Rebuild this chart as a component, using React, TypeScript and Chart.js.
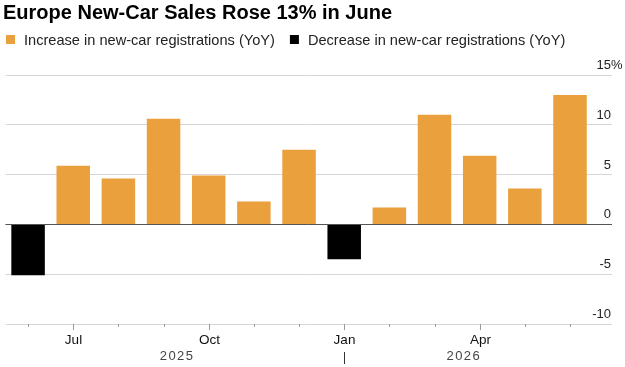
import React, { useEffect, useRef } from 'react';
import { Chart, registerables } from 'chart.js';

Chart.register(...registerables);

// ---- Data ----
const months = ['Jun', 'Jul', 'Aug', 'Sep', 'Oct', 'Nov', 'Dec', 'Jan', 'Feb', 'Mar', 'Apr', 'May', 'Jun'];
const yoyChange = [-5.1, 5.9, 4.6, 10.6, 4.9, 2.3, 7.5, -3.5, 1.7, 11.0, 6.9, 3.6, 13.0];
const xTickLabels = ['', 'Jul', '', '', 'Oct', '', '', 'Jan', '', '', 'Apr', '', ''];
const yTickValues = [-10, -5, 0, 5, 10, 15];
const yearLabels = ['2025', '2026'];
const seriesNames = ['Increase in new-car registrations (YoY)', 'Decrease in new-car registrations (YoY)'];
const titleText = 'Europe New-Car Sales Rose 13% in June';

const ORANGE = '#EAA03D';
const BLACK = '#000000';
const FONT = '"Liberation Sans", Arial, sans-serif';

const increase = yoyChange.map((v, i) => ({ x: i, y: v >= 0 ? v : null }));
const decrease = yoyChange.map((v, i) => ({ x: i, y: v < 0 ? v : null }));

const decorPlugin = {
  id: 'decor',
  afterDatasetsDraw(chart: any) {
    const ctx = chart.ctx;
    const ys = chart.scales.y;
    const area = chart.chartArea;
    ctx.save();
    const y0 = Math.round(ys.getPixelForValue(0)) + 0.5;
    ctx.strokeStyle = '#555555';
    ctx.lineWidth = 1;
    ctx.beginPath();
    ctx.moveTo(area.left, y0);
    ctx.lineTo(area.right, y0);
    ctx.stroke();
    ctx.restore();
  },
  afterDraw(chart: any) {
    const ctx = chart.ctx;
    const xs = chart.scales.x;
    const ys = chart.scales.y;
    const area = chart.chartArea;
    ctx.save();

    // Title
    ctx.fillStyle = '#000';
    ctx.textAlign = 'left';
    ctx.textBaseline = 'alphabetic';
    ctx.font = `bold 20px ${FONT}`;
    ctx.fillText(titleText, 3, 18.5);

    // Legend
    ctx.font = `14.6px ${FONT}`;
    const colors = [ORANGE, BLACK];
    let lx = 6;
    seriesNames.forEach((name, i) => {
      ctx.fillStyle = colors[i];
      ctx.fillRect(lx, 35, 9, 9);
      ctx.fillStyle = '#222';
      ctx.textAlign = 'left';
      ctx.textBaseline = 'alphabetic';
      ctx.fillText(name, lx + 18, 45);
      lx += 18 + ctx.measureText(name).width + 15;
    });

    // Y tick labels (inside, right, above gridlines)
    ctx.font = `13px ${FONT}`;
    ctx.fillStyle = '#222';
    ctx.textBaseline = 'alphabetic';
    const rx = area.right - 1;
    yTickValues.forEach((v) => {
      const py = ys.getPixelForValue(v) - 6;
      ctx.textAlign = 'right';
      ctx.fillText(String(v), rx, py);
      if (v === yTickValues[yTickValues.length - 1]) {
        ctx.textAlign = 'left';
        ctx.fillText('%', rx, py);
      }
    });

    // X ticks and labels
    const base = area.bottom;
    ctx.strokeStyle = '#999';
    ctx.lineWidth = 1;
    months.forEach((m, i) => {
      const px = Math.round(xs.getPixelForValue(i)) + 0.5;
      const major = xTickLabels[i] !== '';
      ctx.beginPath();
      ctx.moveTo(px, base);
      ctx.lineTo(px, base + (major ? 6 : 3));
      ctx.stroke();
      if (major) {
        ctx.fillStyle = '#111';
        ctx.textAlign = 'center';
        ctx.font = `13.5px ${FONT}`;
        ctx.fillText(xTickLabels[i], px, base + 20);
      }
    });

    // Year labels and divider
    ctx.font = `13px ${FONT}`;
    ctx.fillStyle = '#444';
    ctx.textAlign = 'center';
    (ctx as any).letterSpacing = '1.5px';
    const yearPos = [3.3, 9.65];
    yearLabels.forEach((yl, i) => {
      ctx.fillText(yl, xs.getPixelForValue(yearPos[i]), base + 36);
    });
    (ctx as any).letterSpacing = '0px';
    const janIdx = 7;
    const jx = Math.round(xs.getPixelForValue(janIdx)) + 0.5;
    ctx.strokeStyle = '#333';
    ctx.beginPath();
    ctx.moveTo(jx, base + 28);
    ctx.lineTo(jx, base + 40);
    ctx.stroke();

    ctx.restore();
  },
};

export default function App() {
  const ref = useRef<HTMLCanvasElement | null>(null);
  useEffect(() => {
    document.body.style.margin = '0';
    const chart = new Chart(ref.current as HTMLCanvasElement, {
      type: 'bar',
      data: {
        datasets: [
          { label: seriesNames[0], data: increase as any, backgroundColor: ORANGE, grouped: false, categoryPercentage: 1, barPercentage: 0.742 },
          { label: seriesNames[1], data: decrease as any, backgroundColor: BLACK, grouped: false, categoryPercentage: 1, barPercentage: 0.742 },
        ],
      },
      options: {
        animation: false,
        responsive: false,
        maintainAspectRatio: false,
        layout: { padding: { left: 5.5, right: 13, top: 75, bottom: 43 } },
        plugins: { legend: { display: false }, title: { display: false }, tooltip: { enabled: false } },
        scales: {
          x: {
            type: 'linear',
            offset: false,
            min: -0.5,
            max: 12.93,
            display: false,
            grid: { offset: false },
          },
          y: {
            position: 'right',
            min: -10,
            max: 15,
            afterBuildTicks: (axis: any) => {
              axis.ticks = yTickValues.map((v) => ({ value: v }));
            },
            ticks: { display: false },
            border: { display: false },
            grid: { color: '#d6d6d6', lineWidth: 1, drawTicks: false },
          },
        },
      },
      plugins: [decorPlugin],
    });
    return () => chart.destroy();
  }, []);
  return (
    <div style={{ position: 'absolute', left: 0, top: 0, width: 625, height: 367 }}>
      <canvas ref={ref} width={625} height={367} style={{ width: 625, height: 367 }} />
    </div>
  );
}
